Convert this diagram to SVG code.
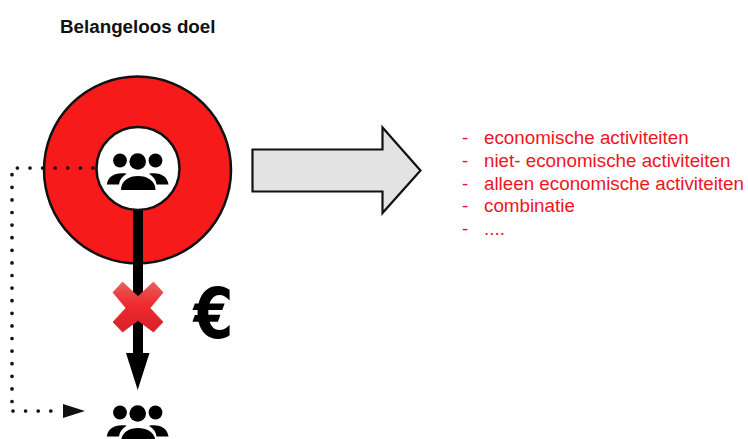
<svg xmlns="http://www.w3.org/2000/svg" width="748" height="439" viewBox="0 0 748 439">
<style>
.t{font-family:"Liberation Sans",Arial,sans-serif}
.r{font-size:18.8px;fill:#f0141e}
.dot{fill:none;stroke:#111;stroke-width:3.7;stroke-linecap:round;stroke-dasharray:0 12.6}
</style>
<defs>
<linearGradient id="xg" x1="0" y1="0" x2="0" y2="1"><stop offset="0" stop-color="#e8605c"/><stop offset="0.45" stop-color="#ee2a2e"/><stop offset="1" stop-color="#d8202c"/></linearGradient>
<g id="people">
<circle cx="120" cy="160.500" r="6.900"/><circle cx="137.700" cy="161.500" r="8.300"/><circle cx="155.500" cy="160.500" r="6.900"/>
<path d="M106.800 184.500C108 176.500 115 172 126.700 173.700C122 176.500 119.500 180 119 184.500Z"/>
<path d="M168.500 184.500C167.300 176.500 160.500 172 149 173.700C153.500 176.500 156 180 156.500 184.500Z"/>
<path d="M121 190C121 180.500 129 176 138 176C147 176 155.500 180.500 155.500 190Z"/>
</g>
</defs>
<rect width="748" height="439" fill="#fff"/>
<text class="t" x="60" y="33" font-size="18.800" font-weight="700" fill="#111">Belangeloos doel</text>
<g id="donut">
<circle cx="137.500" cy="170" r="93.500" fill="#f61a1a" stroke="#111" stroke-width="2.500"/>
</g>
<g id="connectors">
<path class="dot" d="M93 168H17"/>
<path class="dot" d="M12 174.700V402"/>
<path class="dot" d="M13 411H55"/>
<path d="M63 404L85 411L63 418Z" fill="#111"/>
<rect x="133" y="209" width="10" height="146" fill="#000"/>
<path d="M126 353H149.500L137.700 390Z" fill="#000"/>
</g>
<g id="inner">
<circle cx="138" cy="168.500" r="41.500" fill="#fff" stroke="#111" stroke-width="2.500"/>
<use href="#people"/>
</g>
<g id="cross">
<path d="M122.500 282L138 296.500L153.500 282L163 292.500L150 308L163 322L153.500 332L138 320.500L122.500 332L113 322L126 308L113 292.500Z" fill="url(#xg)" stroke="url(#xg)" stroke-width="0.800" stroke-linejoin="round"/>
</g>
<text id="euro" transform="translate(193.500 338) scale(.87 1.04)" font-family="'DejaVu Sans',sans-serif" font-size="66" font-weight="700" fill="#000">€</text>
<g id="big-arrow">
<path d="M252.500 149.500H382.500V127.500L420.500 170.500L382.500 213V191.500H252.500Z" fill="#e3e3e3" stroke="#111" stroke-width="2.200"/>
</g>
<g id="list">
<text class="t r" x="462" y="144">-</text><text class="t r" x="484" y="144">economische activiteiten</text>
<text class="t r" x="462" y="167">-</text><text class="t r" x="484" y="167">niet- economische activiteiten</text>
<text class="t r" x="462" y="190">-</text><text class="t r" x="484" y="190">alleen economische activiteiten</text>
<text class="t r" x="462" y="212">-</text><text class="t r" x="484" y="212">combinatie</text>
<text class="t r" x="462" y="235">-</text><text class="t r" x="484" y="235">....</text>
</g>
<g id="people-bottom">
<use href="#people" y="252"/>
</g>
</svg>
